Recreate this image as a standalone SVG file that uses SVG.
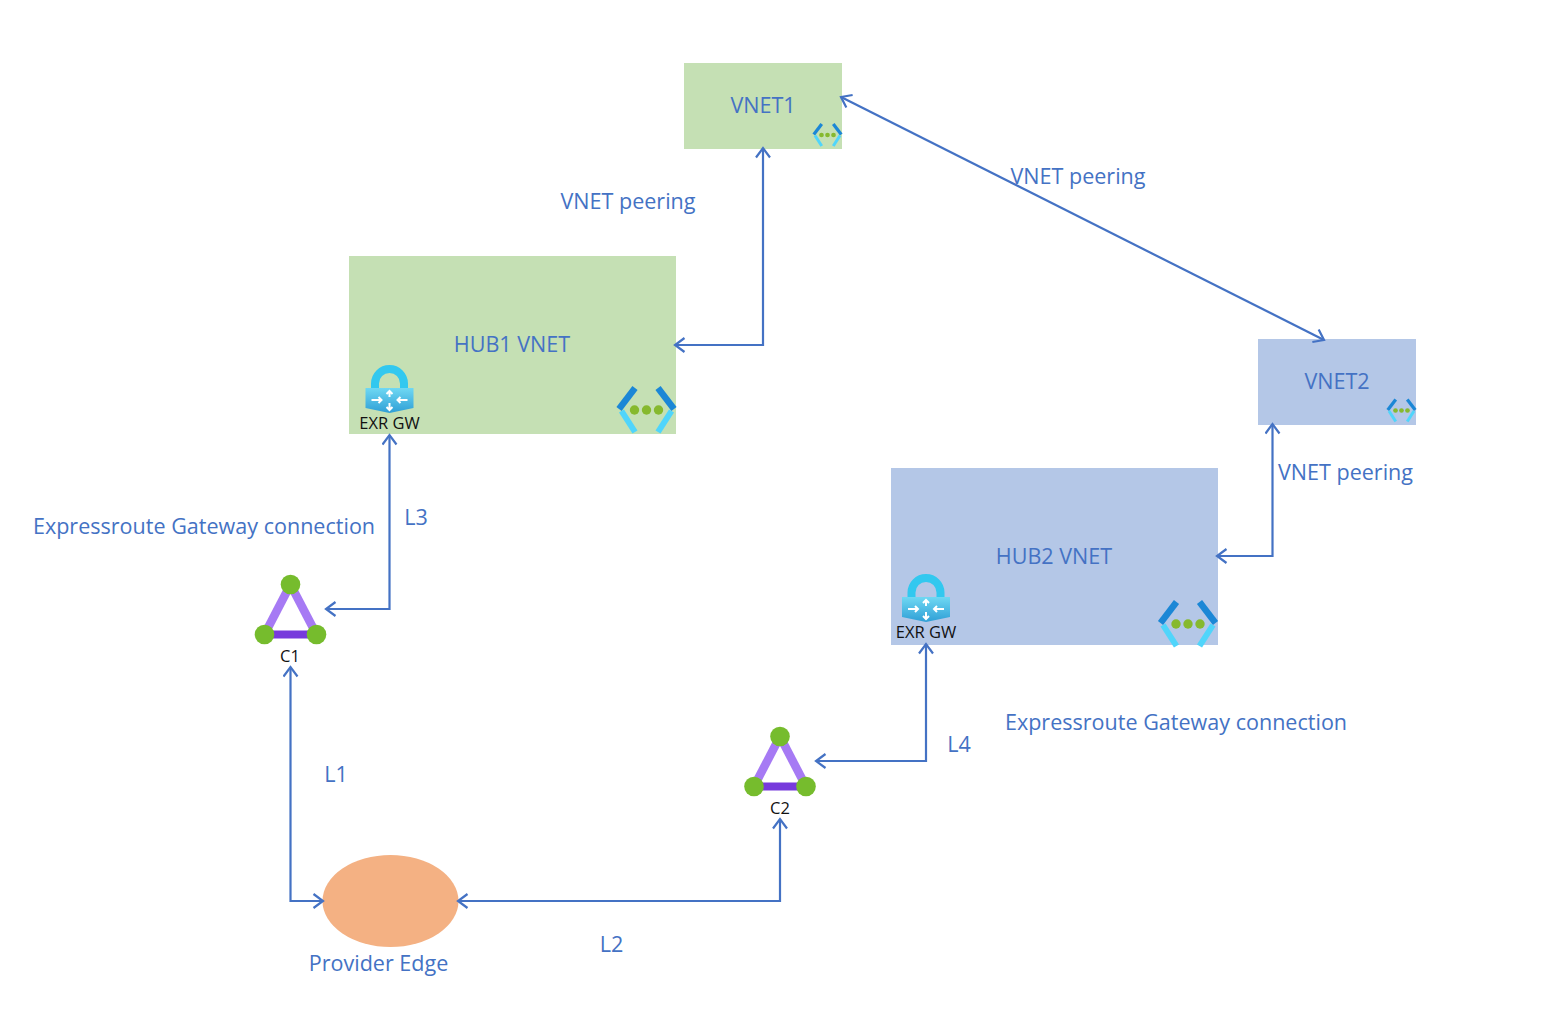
<svg xmlns="http://www.w3.org/2000/svg" width="1560" height="1014" viewBox="0 0 1560 1014">
<style>
.lbl{font-family:"Open Sans","Noto Sans","Liberation Sans",sans-serif;font-size:21.550px;fill:#4472c4;text-anchor:middle;dominant-baseline:central}
.sm{font-family:"Open Sans","Noto Sans","Liberation Sans",sans-serif;font-size:16.500px;fill:#111;text-anchor:middle;dominant-baseline:central}
.c{fill:none;stroke:#4472c4;stroke-width:2.200;marker-start:url(#a);marker-end:url(#a)}
.green{fill:#c5e0b4}.blue{fill:#b4c7e7}
</style>
<defs>
<marker id="a" viewBox="-12 -8 14 16" refX="0" refY="0" markerWidth="14" markerHeight="16" markerUnits="userSpaceOnUse" orient="auto-start-reverse">
<path d="M-9.500 -7L0 0L-9.500 7" fill="none" stroke="#4472c4" stroke-width="2.200"/>
</marker>
<linearGradient id="lk" x1="0" y1="0" x2="0" y2="1"><stop offset="0" stop-color="#6fd8f3"/><stop offset="1" stop-color="#2f9fd6"/></linearGradient>
<g id="gw">
<path d="M-14.500 -3V-8.500A14.500 14.500 0 0 1 14.500 -8.500V-3" fill="none" stroke="#32c8ef" stroke-width="8"/>
<path d="M-24 -4H24V16L0 21L-24 16Z" fill="url(#lk)"/>
<g stroke="#fff" stroke-width="2" fill="none">
<path d="M0 5V-1M-3 2L0 -1L3 2"/><path d="M0 11V18M-3 15L0 18L3 15"/>
<path d="M-18 8H-8M-11 5L-8 8L-11 11"/><path d="M18 8H8M11 5L8 8L11 11"/>
</g>
</g>
<g id="vn" fill="none">
<path d="M-11.500 -22L-27.500 -1" stroke="#1b87d6" stroke-width="6.500"/>
<path d="M-25 1L-11.500 22" stroke="#50d5fb" stroke-width="6"/>
<path d="M11.500 -22L27.500 -1" stroke="#1b87d6" stroke-width="6.500"/>
<path d="M25 1L11.500 22" stroke="#50d5fb" stroke-width="6"/>
<circle cx="-12" cy="0" r="4.700" fill="#86b92e"/><circle cx="0" cy="0" r="4.700" fill="#86b92e"/><circle cx="12" cy="0" r="4.700" fill="#86b92e"/>
</g>
<g id="ckt">
<path d="M0 -25L-26 25" stroke="#a67af4" stroke-width="8.500" fill="none"/>
<path d="M0 -25L26 25" stroke="#a67af4" stroke-width="8.500" fill="none"/>
<path d="M-26 25H26" stroke="#773adc" stroke-width="8" fill="none"/>
<circle cx="0" cy="-25" r="9.800" fill="#76bc2d"/><circle cx="-26" cy="25" r="9.800" fill="#76bc2d"/><circle cx="26" cy="25" r="9.800" fill="#76bc2d"/>
</g>
</defs>
<rect width="1560" height="1014" fill="#fff"/>
<g id="vnet1"><rect class="green" x="684" y="63" width="158" height="86"/><text class="lbl" x="763" y="104.500">VNET1</text><use href="#vn" transform="translate(827.500,135) scale(.5)"/></g>
<g id="hub1"><rect class="green" x="349" y="256" width="327" height="178"/><text class="lbl" x="512" y="343.500">HUB1 VNET</text><use href="#gw" transform="translate(389.500,392)"/><text class="sm" x="389.500" y="422.500">EXR GW</text><use href="#vn" transform="translate(646.500,410)"/></g>
<g id="vnet2"><rect class="blue" x="1258" y="339" width="158" height="86"/><text class="lbl" x="1337" y="380.500">VNET2</text><use href="#vn" transform="translate(1401.500,410.500) scale(.5)"/></g>
<g id="hub2"><rect class="blue" x="891" y="468" width="327" height="177"/><text class="lbl" x="1054" y="555.500">HUB2 VNET</text><use href="#gw" transform="translate(926,601)"/><text class="sm" x="926" y="631.500">EXR GW</text><use href="#vn" transform="translate(1188,624)"/></g>
<g id="c1"><use href="#ckt" transform="translate(290.500,609.500)"/><text class="sm" x="290" y="655.500">C1</text></g>
<g id="c2"><use href="#ckt" transform="translate(780,761.500)"/><text class="sm" x="780" y="807.500">C2</text></g>
<g id="pe"><ellipse cx="390.500" cy="901" rx="68" ry="46" fill="#f4b183"/><text class="lbl" x="378.500" y="962">Provider Edge</text></g>
<g id="connectors">
<path class="c" d="M763 148V345H675"/>
<path class="c" d="M841 97L1324 340"/>
<path class="c" d="M1272.500 424V556H1217"/>
<path class="c" d="M389.500 435V609H326"/>
<path class="c" d="M926 644V761H816"/>
<path class="c" d="M290.500 667V901H323"/>
<path class="c" d="M458 901H780V819"/>
</g>
<g id="labels">
<text class="lbl" x="628" y="200">VNET peering</text>
<text class="lbl" x="1078" y="175">VNET peering</text>
<text class="lbl" x="1345.500" y="471">VNET peering</text>
<text class="lbl" x="204" y="525">Expressroute Gateway connection</text>
<text class="lbl" x="1176" y="721">Expressroute Gateway connection</text>
<text class="lbl" x="416" y="516">L3</text>
<text class="lbl" x="336" y="773">L1</text>
<text class="lbl" x="611.500" y="943">L2</text>
<text class="lbl" x="959" y="743">L4</text>
</g>
</svg>
